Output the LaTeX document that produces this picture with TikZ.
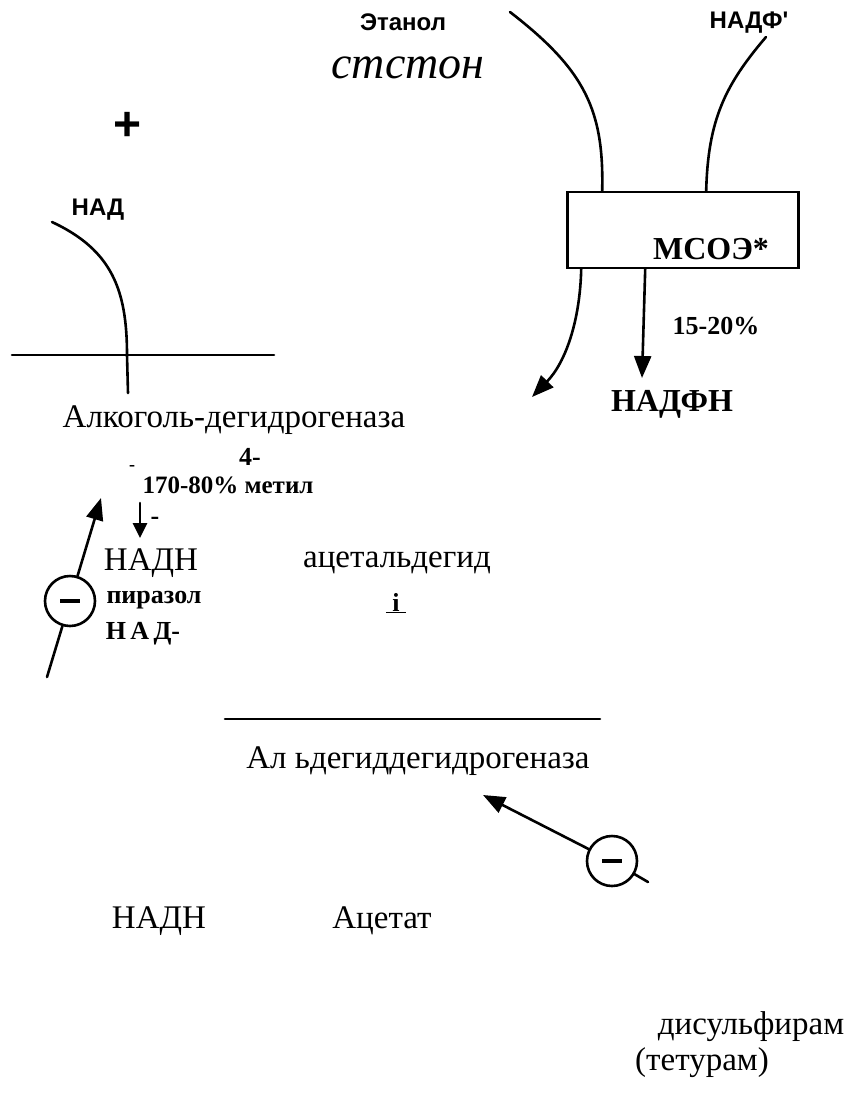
\documentclass[tikz,border=0pt]{standalone}
\usepackage{fontspec}
\setmainfont{Liberation Serif}
\newfontfamily\labelsans{Liberation Sans}
\usetikzlibrary{arrows.meta,positioning}

\begin{document}
\begin{tikzpicture}[
    x=1pt, y=-1pt,
    line width=2.6pt, line cap=round,
    every node/.style = {inner sep=0pt},
    sanslabel/.style = {font=\labelsans\bfseries\fontsize{24}{28}\selectfont},
    plainlabel/.style = {font=\fontsize{33}{38}\selectfont},
    boldlabel/.style = {font=\bfseries\fontsize{26}{30}\selectfont},
    biglabel/.style = {font=\bfseries\fontsize{32}{36}\selectfont},
    inhibitor/.style = {circle, draw, line width=2.6pt, minimum size=50pt},
    >={Triangle[length=22pt, width=17pt]},
  ]
    \useasboundingbox (0,0) rectangle (852,1101);

    % substrates of the microsomal pathway
    \node[sanslabel] (etanol) at (403,22) {Этанол};
    \node[sanslabel] (nadfplus) at (749,23) {НАДФ'};
    \node[font=\itshape\fontsize{46}{50}\selectfont] (stston) at (408,68) {стстон};
    \node[font=\labelsans\bfseries\fontsize{48}{52}\selectfont] (plus) at (128,126) {+};
    \node[sanslabel] (nad) at (98,210) {НАД};

    % MSOE box
    \node[draw, minimum width=231pt, minimum height=76pt] (mcoe) at (683,230) {};
    \node[biglabel] (mcoetext) at (711,249) {МСОЭ*};
    \node[boldlabel] (percent) at (716,326) {15-20\%};
    \node[biglabel] (nadfh) at (672,404) {НАДФН};
    \coordinate (ethstart) at (510,12);
    \coordinate (nadfstart) at (766,37);
    \coordinate (leftend) at (532,397);
    \coordinate (downend) at (642,378);

    \draw (ethstart) .. controls (585,70) and (604,110) .. ([xshift=36pt]mcoe.north west);
    \draw (nadfstart) .. controls (725,85) and (708,120) .. ([xshift=140pt]mcoe.north west);
    \draw[->] ([xshift=79pt]mcoe.south west) -- (downend);
    \draw[->] ([xshift=15pt]mcoe.south west) .. controls (580,320) and (566,362) .. (leftend);

    % alcohol dehydrogenase
    \coordinate (adhleft) at (12,355);
    \coordinate (adhright) at (274,355);
    \coordinate (nadstart) at (52,222);
    \coordinate (adhfoot) at (128,393);
    \draw (adhleft) -- (adhright);
    \draw (nadstart) .. controls (112,250) and (127,290) .. (127,355) -- (adhfoot);
    \node[plainlabel] (adh) at (234,420) {Алкоголь-дегидрогеназа};
    \node[boldlabel] (four) at (250,457) {4-};
    \node[font=\bfseries\fontsize{18}{20}\selectfont] (dashone) at (132,468) {-};
    \node[font=\bfseries\fontsize{25}{30}\selectfont] (metil) at (228,485) {170-80\% метил};
    \coordinate (smalltop) at (140,503);
    \coordinate (smallend) at (140,538);
    \draw[->, >={Triangle[length=15pt, width=14pt]}] (smalltop) -- (smallend);
    \node[boldlabel] (dashtwo) at (155,521) {-};
    \node[plainlabel] (nadh) at (151,563) {НАДН};
    \node[plainlabel] (acetald) at (397,563) {ацетальдегид};
    \node[boldlabel] (pirazol) at (154,600) {пиразол};
    \node[boldlabel] (ii) at (396,603) {\underline{\ i\ }};
    \node[boldlabel] (nadminus) at (143,634) {Н\,А\,Д-};

    % pyrazole inhibition
    \node[inhibitor] (inhone) at (70,601) {\rule{20pt}{4pt}};
    \coordinate (inhonefoot) at (47,677);
    \coordinate (inhonetip) at (101,498);
    \draw (inhonefoot) -- (inhone);
    \draw[->] (inhone) -- (inhonetip);

    % aldehyde dehydrogenase
    \coordinate (aldhleft) at (225,719);
    \coordinate (aldhright) at (600,719);
    \draw (aldhleft) -- (aldhright);
    \node[plainlabel] (aldh) at (418,761) {Ал ьдегиддегидрогеназа};
    \node[plainlabel] (nadhtwo) at (159,921) {НАДН};
    \node[plainlabel] (acetat) at (382,921) {Ацетат};

    % disulfiram inhibition
    \node[inhibitor] (inhtwo) at (612,861) {\rule{20pt}{4pt}};
    \coordinate (inhtwofoot) at (648,882);
    \coordinate (inhtwotip) at (483,795);
    \draw (inhtwofoot) -- (inhtwo);
    \draw[->] (inhtwo) -- (inhtwotip);
    \node[plainlabel] (disulf) at (751,1027) {дисульфирам};
    \node[plainlabel] (tetur) at (702,1063) {(тетурам)};
\end{tikzpicture}
\end{document}
